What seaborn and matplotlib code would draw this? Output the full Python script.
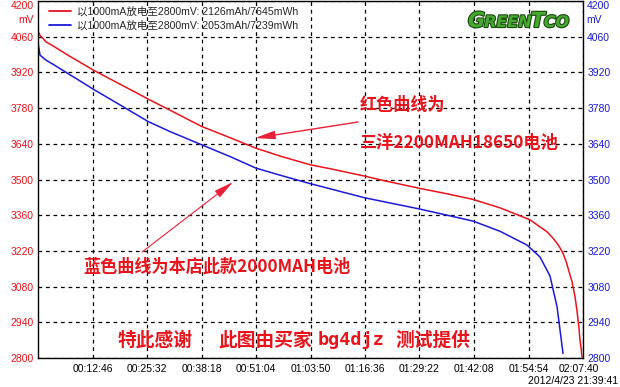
import matplotlib
matplotlib.use("Agg")
import matplotlib.pyplot as plt
import matplotlib.patheffects as pe
import matplotlib.transforms as mtransforms
import seaborn as sns
import pandas as pd

# ---- data (time in seconds, voltage in mV) ----
red_t = [0, 4, 28, 112, 211, 436, 675, 777, 1138, 1377, 1550, 1855, 2301, 2699,
         3060, 3401, 3823, 4146, 4596, 4905, 5369, 5749, 6114, 6493, 6915, 7154, 7238,
         7295, 7337, 7379, 7421, 7463, 7505, 7548, 7576, 7604, 7618, 7632, 7646]
red_v = [4200, 4080, 4066, 4040, 4024, 3985, 3946, 3929, 3876, 3841, 3815, 3772, 3708, 3664,
         3623, 3592, 3558, 3540, 3513, 3493, 3465, 3444, 3422, 3389, 3342, 3295, 3270,
         3250, 3232, 3210, 3180, 3140, 3100, 3040, 2985, 2915, 2870, 2840, 2805]
blue_t = [0, 4, 28, 112, 211, 436, 675, 777, 1138, 1550, 1855, 2301, 2699, 3060, 3401,
          3823, 4596, 5369, 6114, 6493, 6873, 7056, 7196, 7295, 7337, 7379]
blue_v = [4150, 4030, 3988, 3968, 3952, 3913, 3872, 3854, 3795, 3727, 3688, 3636, 3590, 3545, 3517,
          3484, 3428, 3384, 3337, 3297, 3243, 3196, 3122, 3001, 2910, 2818]
red_label = "以1000mA放电至2800mV: 2126mAh/7645mWh"
blue_label = "以1000mA放电至2800mV: 2053mAh/7239mWh"
x_ticks = [766 * k for k in range(1, 11)]
x_tick_labels = ["00:12:46", "00:25:32", "00:38:18", "00:51:04", "01:03:50",
                 "01:16:36", "01:29:22", "01:42:08", "01:54:54", "02:07:40"]
y_ticks = list(range(2800, 4201, 140))

df = pd.concat([
    pd.DataFrame({"t": red_t, "v": red_v, "s": red_label}),
    pd.DataFrame({"t": blue_t, "v": blue_v, "s": blue_label}),
])

sns.set_style("white")
plt.rcParams["font.family"] = ["Liberation Sans", "Noto Sans CJK SC"]

fig = plt.figure(figsize=(6.2, 3.87), dpi=100)
ax = fig.add_axes([38 / 620, 29 / 387, 545 / 620, 357 / 387])

RED = "#e8141c"
BLUE = "#1a1ad8"
ARROW = "#e8203a"

sns.lineplot(data=df, x="t", y="v", hue="s", palette=[RED, BLUE], ax=ax,
             linewidth=1.1, sort=False, estimator=None)

ax.set_xlim(0, 7660)
ax.set_ylim(2800, 4200)
ax.set_xlabel("")
ax.set_ylabel("")
ax.set_xticks(x_ticks)
ax.set_xticklabels(x_tick_labels, fontsize=7.5, color="black")
ax.set_yticks(y_ticks)
ax.set_yticklabels([str(v) if v != 4200 else "" for v in y_ticks], fontsize=7.5)
ax.tick_params(axis="both", length=0, pad=3)
ax.tick_params(axis="x", pad=4)
ax.tick_params(axis="y", labelright=True)
for tk in ax.yaxis.get_major_ticks():
    tk.label1.set_color(RED)
    tk.label2.set_color(BLUE)
last = ax.get_xticklabels()[-1]
last.set_transform(last.get_transform() + mtransforms.ScaledTranslation(-4 / 100, 0, fig.dpi_scale_trans))

ax.grid(True, color="black", linestyle=(0, (3, 3)), linewidth=0.9)
for s in ax.spines.values():
    s.set_color("black")
    s.set_linewidth(1.0)

# top labels "4200 / mV"
tr = ax.transAxes
ax.text(-0.007, 0.985, "4200", transform=tr, ha="right", va="center", fontsize=7.5, color=RED)
ax.text(-0.007, 0.948, "mV", transform=tr, ha="right", va="center", fontsize=7.5, color=RED)
ax.text(1.006, 0.985, "4200", transform=tr, ha="left", va="center", fontsize=7.5, color=BLUE)
ax.text(1.006, 0.948, "mV", transform=tr, ha="left", va="center", fontsize=7.5, color=BLUE)

leg = ax.legend(loc="upper left", bbox_to_anchor=(0.010, 1.0), frameon=False,
                fontsize=7.6, handlelength=2.1, handletextpad=0.5, labelspacing=0.32,
                borderaxespad=0.15)
for line in leg.get_lines():
    line.set_linewidth(1.3)

# annotations
cjk = ["Noto Sans CJK SC", "DejaVu Sans"]
ax.text(0.591, 0.709, "红色曲线为", transform=tr, ha="left", va="center",
        fontsize=12.3, color=RED, fontweight="bold", family=cjk)
ax.text(0.591, 0.602, "三洋2200MAH18650电池", transform=tr, ha="left", va="center",
        fontsize=12.4, color=RED, fontweight="bold", family=cjk)
ax.text(0.083, 0.255, "蓝色曲线为本店此款2000MAH电池", transform=tr, ha="left", va="center",
        fontsize=12.3, color=RED, fontweight="bold", family=cjk)

# bottom thanks line (pieces placed as in the reference)
def px2ax(px):
    return (px - 38) / 545

yb = (358 - 340) / 357
ax.text(px2ax(118), yb, "特此感谢", transform=tr, ha="left", va="center",
        fontsize=13.5, color=RED, fontweight="bold", family=cjk)
ax.text(px2ax(218), yb, "此图由买家", transform=tr, ha="left", va="center",
        fontsize=13.5, color=RED, fontweight="bold", family=cjk)
ax.text(px2ax(318), yb, "bg4djz", transform=tr, ha="left", va="center",
        fontsize=13.3, color=RED, fontweight="bold", family="DejaVu Sans Mono")
ax.text(px2ax(395), yb, "测试提供", transform=tr, ha="left", va="center",
        fontsize=13.5, color=RED, fontweight="bold", family=cjk)

ax.annotate("", xy=(0.398, 0.616), xytext=(0.587, 0.661), xycoords=tr, textcoords=tr,
            arrowprops=dict(arrowstyle="-|>,head_length=1.2,head_width=0.25",
                            color=ARROW, lw=1.0, shrinkA=0, shrinkB=0))
ax.annotate("", xy=(0.358, 0.493), xytext=(0.191, 0.297), xycoords=tr, textcoords=tr,
            arrowprops=dict(arrowstyle="-|>,head_length=1.2,head_width=0.25",
                            color=ARROW, lw=0.8, shrinkA=0, shrinkB=0))

# logo "GREENTco" in small-caps style
renderer = fig.canvas.get_renderer()
xpos = 468
ybase = 1 - 27 / 387
for piece, size in [("G", 15), ("REEN", 11.5), ("T", 15), ("CO", 11.5)]:
    t = fig.text(xpos / 620, ybase, piece, ha="left", va="baseline", fontsize=size,
                 fontstyle="italic", fontweight="bold", color="#46a82e", family="DejaVu Sans")
    t.set_path_effects([pe.withStroke(linewidth=1.6, foreground="#1b4a10")])
    bb = t.get_window_extent(renderer=renderer)
    xpos += bb.width - 1

# timestamp
fig.text(618 / 620, 1 - 381 / 387, "2012/4/23 21:39:41", ha="right", va="center",
         fontsize=7.5, color="black")

fig.savefig("out.png", dpi=100, facecolor="white")
